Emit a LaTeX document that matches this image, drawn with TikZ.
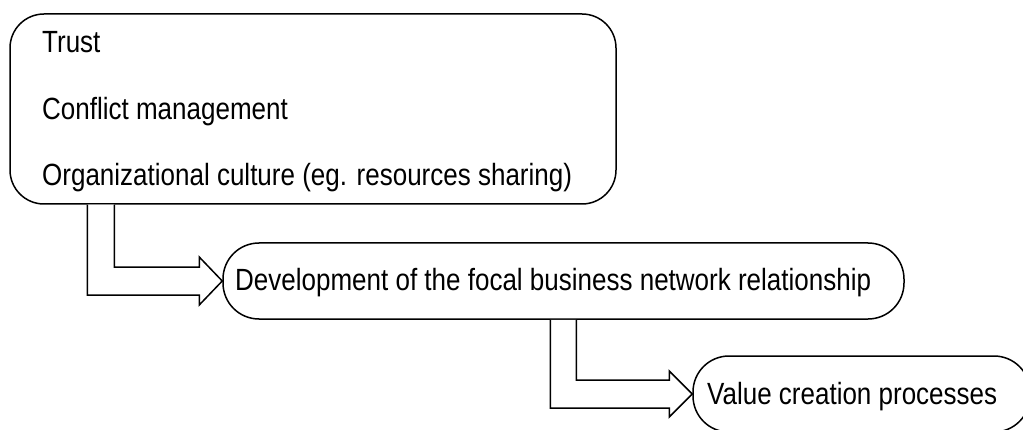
\documentclass[tikz,border=0pt]{standalone}
\usepackage{fontspec}
\setmainfont{Liberation Sans}
\usepackage{graphicx}
\usetikzlibrary{calc}
\newcommand\stretchtxt[1]{\scalebox{1}[1.18]{#1}}
\tikzset{
  box/.style={draw, line width=1.5pt, rounded corners=#1, inner sep=0pt},
  txt/.style={anchor=base west, inner sep=0pt, font=\fontsize{26}{30}\selectfont},
  hollow/.style={draw, line width=1.5pt, fill=white, line join=miter},
}
\begin{document}
\begin{tikzpicture}[x=1pt,y=1pt]
\useasboundingbox (0,0) rectangle (1023,429);
\clip (0,0) rectangle (1023,429);
% boxes
\node[box=34pt, minimum width=606pt, minimum height=190pt] (b1) at (313,320) {};
\node[box=36pt, minimum width=681pt, minimum height=76pt] (b2) at (563.5,148) {};
\node[box=36pt, minimum width=337pt, minimum height=76pt] (b3) at (861.5,35) {};
% texts
\node[txt] (t1) at (42,376) {\stretchtxt{Trust}};
\node[txt] (t2) at (42,309.5) {\stretchtxt{Conflict management}};
\node[txt] (t3) at (42,243) {\stretchtxt{Organizational culture (eg. resources sharing)}};
\node[txt] (t4) at (235,139) {\stretchtxt{Development of the focal business network relationship}};
\node[txt] (t5) at (707,25) {\stretchtxt{Value creation processes}};
% hollow arrows
\coordinate (a1) at ($(b1.south west)+(78,0)$);
\coordinate (a2) at ($(b1.south west)+(105,0)$);
\draw[hollow] (a1) |- ($(b2.west)+(-23,-14)$) -- ++(0,-10) -- (b2.west)
  -- ++(-23,24) -- ++(0,-10) -| (a2);
\coordinate (a3) at ($(b2.south west)+(328,0)$);
\coordinate (a4) at ($(b2.south west)+(354,0)$);
\draw[hollow] (a3) |- ($(b3.west)+(-23,-14)$) -- ++(0,-9) -- (b3.west)
  -- ++(-23,23) -- ++(0,-9) -| (a4);
\end{tikzpicture}
\end{document}
